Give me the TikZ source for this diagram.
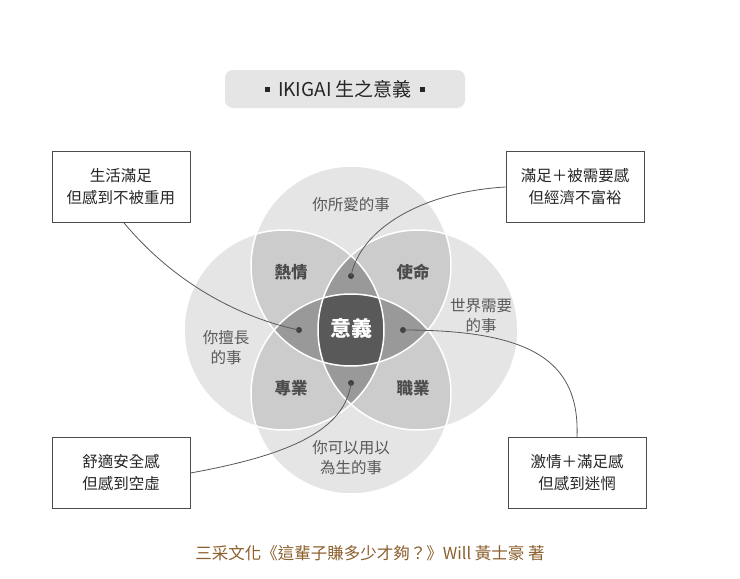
\documentclass[tikz,border=0pt]{standalone}
\usepackage{fontspec}
\setmainfont{Noto Sans CJK TC}
\begin{document}
\begin{tikzpicture}[x=1pt,y=-1pt,
  lab/.style={font=\fontsize{15.5}{20}\selectfont, text=black!65, align=center},
  blab/.style={font=\bfseries\fontsize{16.5}{20}\selectfont, text=black!70},
  box/.style={draw=black!70, line width=0.8pt, fill=white, minimum width=138pt, minimum height=71pt, align=center, font=\fontsize{15.5}{22}\selectfont, text=black!85},
  dot/.style={circle, fill=black!75, inner sep=0pt, minimum size=6pt},
  conn/.style={draw=black!65, line width=0.8pt}]
\useasboundingbox (0,0) rectangle (740,579);
\fill[white] (0,0) rectangle (740,579);
\def\R{100}
\coordinate (T) at (351,266);
\coordinate (B) at (351,394);
\coordinate (L) at (284,330);
\coordinate (Rc) at (418,330);
\foreach \c in {T,B,L,Rc} \fill[black!10] (\c) circle (\R);
\foreach \a/\b in {T/L,T/Rc,B/L,B/Rc}{
  \begin{scope}\clip (\a) circle (\R); \fill[black!20] (\b) circle (\R);\end{scope}}
\begin{scope}\clip (T) circle (\R); \fill[black!40] (B) circle (\R);\end{scope}
\begin{scope}\clip (L) circle (\R); \fill[black!40] (Rc) circle (\R);\end{scope}
\begin{scope}\clip (T) circle (\R); \clip (B) circle (\R); \clip (L) circle (\R); \fill[black!65] (Rc) circle (\R);\end{scope}
\foreach \c in {T,B,L,Rc} \draw[white, line width=1.5pt] (\c) circle (\R);
\node[fill=black!10, rounded corners=8pt, minimum width=240pt, minimum height=38pt, font=\fontsize{19}{22}\selectfont, text=black!85] (title) at (345,89) {\raisebox{4pt}{\rule{5pt}{5pt}}\ \ IKIGAI 生之意義\ \ \raisebox{4pt}{\rule{5pt}{5pt}}};
\node[lab] (love) at (351,205) {你所愛的事};
\node[lab] (good) at (226,348) {你擅長\\的事};
\node[lab] (need) at (481,316) {世界需要\\的事};
\node[lab] (paid) at (351,458) {你可以用以\\為生的事};
\node[blab] (passion) at (291,272) {熱情};
\node[blab] (mission) at (413,272) {使命};
\node[blab] (prof) at (291,388) {專業};
\node[blab] (voc) at (413,388) {職業};
\node[font=\bfseries\fontsize{21}{24}\selectfont, text=white] (ikigai) at (351,328) {意義};
\node[dot] (dT) at (351,276) {};
\node[dot] (dL) at (299,330) {};
\node[dot] (dR) at (403,330) {};
\node[dot] (dB) at (351,383) {};
\node[box] (b1) at (121,187) {生活滿足\\但感到不被重用};
\node[box] (b2) at (575,187) {滿足＋被需要感\\但經濟不富裕};
\node[box] (b3) at (121,473) {舒適安全感\\但感到空虛};
\node[box] (b4) at (577,473) {激情＋滿足感\\但感到迷惘};
\draw[conn] (b1.south) ++(3,0) .. controls (180,290) and (250,320) .. (dL.center);
\draw[conn] (b2.west) .. controls (420,192) and (360,230) .. (dT.center);
\draw[conn] (b3.east) .. controls (290,455) and (345,430) .. (dB.center);
\draw[conn] (dR.center) .. controls (530,330) and (580,360) .. (b4.north);
\node[font=\fontsize{16.5}{20}\selectfont, text={rgb,255:red,140;green,95;blue,45}] (cap) at (370,553) {三采文化《這輩子賺多少才夠？》Will 黃士豪 著};
\end{tikzpicture}
\end{document}
